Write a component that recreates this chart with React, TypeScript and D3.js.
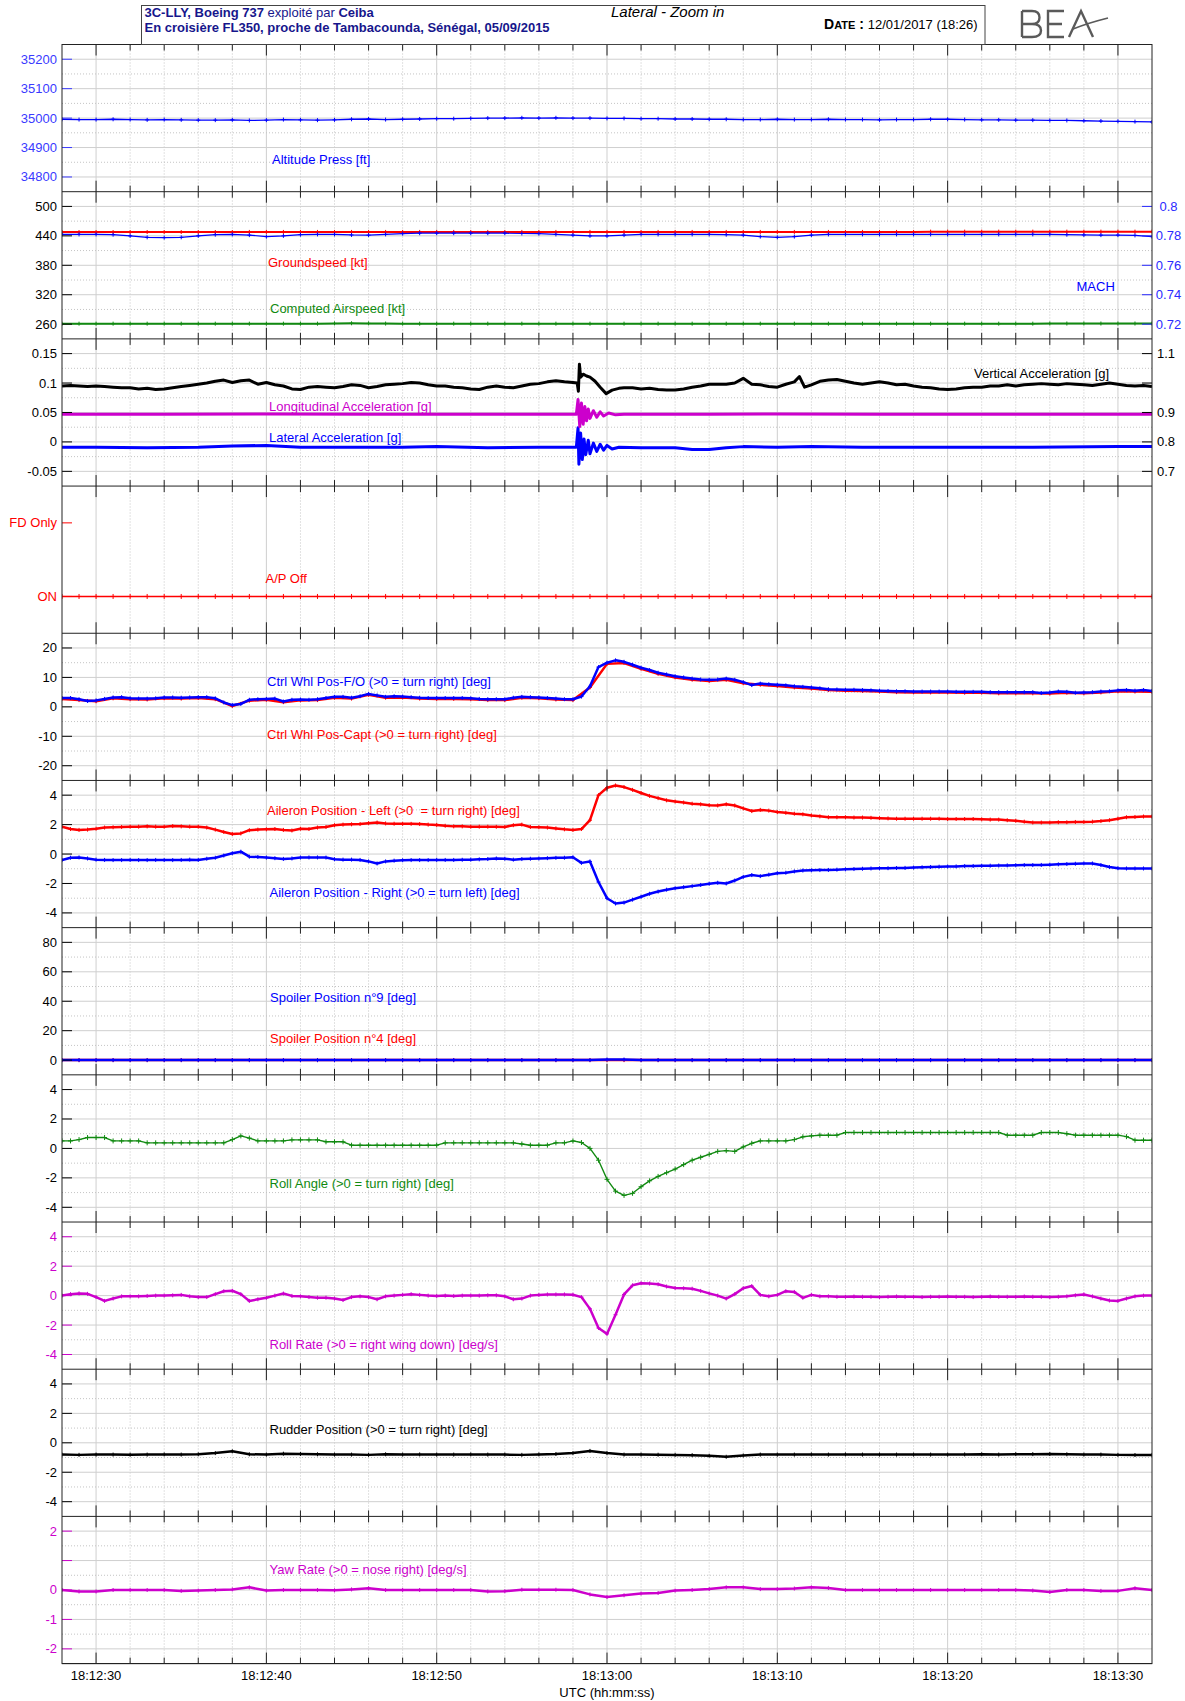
import React from 'react';
import * as d3 from 'd3';

const FONT = '"Liberation Sans", Arial, Helvetica, sans-serif';
const W = 1185, H = 1701;
const L = 62, R = 1152, TOP = 44.5, PH = 147.19, NP = 11;
const BOTTOM = TOP + PH * NP;

const BLUE = '#0000ff', RED = '#ff0000', GREEN = '#118a11', MAG = '#cc00cc', BLK = '#000000';
const NAVY = '#16168c';

// ---------- time axis ----------
const timeDomain: [number, number] = [28, 92]; // seconds after 18:12:00
const majorTimes = [30, 40, 50, 60, 70, 80, 90];
const timeLabels = ['18:12:30', '18:12:40', '18:12:50', '18:13:00', '18:13:10', '18:13:20', '18:13:30'];
const minorTimes = d3.range(30, 91, 2);

const SEC = d3.range(28, 93, 1); // 65 samples, 1 s
const HALF = d3.range(0, 129).map((i) => 28 + i * 0.5); // 129 samples, 0.5 s

// ---------- data ----------
const altitude = [
  34996, 34995, 34995, 34996, 34995, 34994, 34995, 34994, 34993,
  34993, 34994, 34992, 34993, 34995, 34994, 34993, 34994,
  34996, 34997, 34995, 34996, 34997, 34998, 34998, 34999,
  35000, 35000, 35001, 35000, 35001, 35000, 35000, 34999,
  34999, 34998, 34998, 34997, 34997, 34996, 34996, 34995,
  34995, 34996, 34995, 34995, 34996, 34995, 34995, 34994,
  34995, 34995, 34996, 34996, 34995, 34994, 34994, 34993,
  34993, 34992, 34992, 34991, 34990, 34989, 34988, 34987,
];

const groundspeed = [
  447.8, 447.8, 447.8, 447.8, 447.8, 447.8, 447.8, 447.8, 447.8, 447.8, 447.8,
  448.0, 448.0, 448.0, 448.0, 448.0, 448.0, 448.0, 448.0, 448.0, 448.0,
  448.0, 448.0, 448.0, 448.0, 448.0, 448.0, 448.0, 448.0, 448.0, 448.0,
  448.0, 448.0, 448.0, 448.0, 448.0, 448.0, 448.0, 448.0, 448.0, 448.0,
  448.0, 448.0, 448.0, 448.0, 448.0, 448.0, 448.0, 448.0, 448.0, 448.0,
  448.6, 448.6, 448.6, 448.6, 448.6, 448.6, 448.6, 448.6, 448.6, 448.6,
  448.6, 448.6, 448.6, 448.6,
];

const airspeed = [
  261.0, 261.0, 261.0, 261.0, 261.0, 261.0, 261.0, 261.0, 261.0, 261.0,
  261.0, 261.0, 261.0, 261.0, 261.0, 261.0, 261.6, 261.8, 261.6, 261.2,
  261.0, 261.0, 261.0, 261.0, 261.0, 261.0, 261.0, 261.0, 261.0, 261.0,
  261.0, 261.0, 261.0, 261.0, 261.0, 261.0, 261.0, 261.0, 261.0, 261.0,
  261.0, 261.0, 261.0, 261.0, 261.0, 261.0, 261.0, 261.0, 261.0, 261.0,
  261.0, 261.0, 261.0, 261.0, 261.0, 261.0, 261.0, 261.0, 261.3, 261.3,
  261.3, 261.3, 261.3, 261.3, 261.3,
];

const mach = [
  0.781, 0.781, 0.781, 0.7808, 0.78, 0.779, 0.7788, 0.779, 0.78, 0.7808,
  0.781, 0.7805, 0.7795, 0.78, 0.7808, 0.781, 0.781, 0.7806, 0.7805, 0.781,
  0.7815, 0.7818, 0.7818, 0.7818, 0.7818, 0.7818, 0.7818, 0.7816, 0.7815, 0.781,
  0.7805, 0.78, 0.78, 0.7805, 0.781, 0.781, 0.781, 0.781, 0.781, 0.7808,
  0.7805, 0.7795, 0.779, 0.7795, 0.7805, 0.781, 0.781, 0.781, 0.781, 0.781,
  0.781, 0.781, 0.781, 0.781, 0.781, 0.781, 0.781, 0.781, 0.781, 0.7808,
  0.7806, 0.7805, 0.7805, 0.7803, 0.7795,
];

const verticalAcc: [number, number][] = [
  [28, 0.990], [28.5, 0.992], [29, 0.990], [29.5, 0.988], [30, 0.990], [30.5, 0.988], [31, 0.986], [31.5, 0.984],
  [32, 0.984], [32.5, 0.980], [33, 0.982], [33.5, 0.978], [34, 0.980], [34.5, 0.984], [35, 0.988], [35.5, 0.992],
  [36, 0.996], [36.5, 1.000], [37, 1.006], [37.5, 1.010], [38, 1.002], [38.5, 1.008], [39, 1.010], [39.5, 0.996],
  [40, 1.002], [40.5, 0.994], [41, 0.990], [41.5, 0.980], [42, 0.978], [42.5, 0.986], [43, 0.988], [43.5, 0.986],
  [44, 0.984], [44.5, 0.988], [45, 0.994], [45.5, 0.992], [46, 0.984], [46.5, 0.988], [47, 0.994], [47.5, 0.996],
  [48, 0.998], [48.5, 1.002], [49, 1.000], [49.5, 0.994], [50, 0.990], [50.5, 0.990], [51, 0.986], [51.5, 0.984],
  [52, 0.980], [52.5, 0.978], [53, 0.986], [53.5, 0.990], [54, 0.986], [54.5, 0.984], [55, 0.990], [55.5, 0.996],
  [56, 0.998], [56.5, 1.004], [57, 1.008], [57.5, 1.004], [58, 1.002], [58.25, 1.000], [58.32, 0.972], [58.38, 1.064],
  [58.45, 1.020], [58.6, 1.030], [58.8, 1.024], [59.0, 1.020], [59.3, 1.006], [59.6, 0.986], [59.95, 0.964], [60.3, 0.976],
  [60.7, 0.982], [61, 0.984], [61.5, 0.984], [62, 0.980], [62.5, 0.982], [63, 0.978], [63.5, 0.976], [64, 0.976],
  [64.5, 0.980], [65, 0.986], [65.5, 0.990], [66, 0.996], [66.5, 0.996], [67, 0.996], [67.5, 1.000], [68, 1.016],
  [68.5, 0.996], [69, 0.994], [69.5, 0.988], [70, 0.986], [70.5, 0.996], [71, 1.004], [71.3, 1.022], [71.6, 0.986],
  [72, 0.994], [72.5, 1.006], [73, 1.010], [73.5, 1.012], [74, 1.006], [74.5, 1.000], [75, 0.996], [75.5, 1.000],
  [76, 1.004], [76.5, 1.000], [77, 0.994], [77.5, 0.996], [78, 0.990], [78.5, 0.986], [79, 0.984], [79.5, 0.980],
  [80, 0.978], [80.5, 0.980], [81, 0.984], [81.5, 0.986], [82, 0.986], [82.5, 0.990], [83, 0.990], [83.5, 0.994],
  [84, 0.990], [84.5, 0.994], [85, 0.996], [85.5, 0.998], [86, 0.996], [86.5, 0.994], [87, 0.998], [87.5, 0.996],
  [88, 0.994], [88.5, 0.992], [89, 0.996], [89.5, 1.000], [90, 0.996], [90.5, 0.992], [91, 0.990], [91.5, 0.992],
  [92, 0.988],
];

const longitudinalAcc: [number, number][] = [
  [28, 0.047], [34, 0.047], [40, 0.0475], [46, 0.0468], [52, 0.047], [58.2, 0.047], [58.3, 0.072], [58.4, 0.026],
  [58.5, 0.066], [58.6, 0.030], [58.7, 0.060], [58.8, 0.036], [58.9, 0.056], [59.0, 0.040], [59.2, 0.053], [59.4, 0.042],
  [59.6, 0.051], [59.8, 0.044], [60.1, 0.049], [60.5, 0.046], [61, 0.047], [66, 0.047], [70, 0.0475], [76, 0.047],
  [82, 0.047], [88, 0.047], [92, 0.047],
];

const lateralAcc: [number, number][] = [
  [28, -0.009], [30, -0.009], [33, -0.010], [36, -0.009], [38, -0.007], [40, -0.006], [42, -0.009], [45, -0.009],
  [48, -0.009], [50, -0.008], [53, -0.010], [56, -0.009], [58.2, -0.009], [58.3, 0.024], [58.35, -0.038], [58.45, 0.015],
  [58.55, -0.030], [58.65, 0.005], [58.75, -0.022], [58.9, 0.003], [59.0, -0.020], [59.2, -0.002], [59.4, -0.016], [59.6, -0.004],
  [59.8, -0.014], [60.0, -0.006], [60.3, -0.012], [60.7, -0.009], [62, -0.010], [64, -0.010], [65, -0.013], [66, -0.013],
  [67, -0.010], [68, -0.008], [70, -0.009], [72, -0.008], [75, -0.009], [80, -0.009], [85, -0.009], [90, -0.008], [92, -0.008],
];

const autopilot = [
  0, 0, 0, 0, 0, 0, 0, 0, 0, 0, 0, 0, 0, 0, 0, 0, 0, 0, 0, 0, 0, 0, 0, 0, 0, 0, 0, 0, 0, 0, 0, 0, 0,
  0, 0, 0, 0, 0, 0, 0, 0, 0, 0, 0, 0, 0, 0, 0, 0, 0, 0, 0, 0, 0, 0, 0, 0, 0, 0, 0, 0, 0, 0, 0, 0,
];

const ctrlWhlFO = [
  3.0, 3.0, 2.6, 2.0, 2.2, 2.7, 3.2, 3.3, 2.9, 2.8,
  2.8, 2.9, 3.2, 3.2, 3.1, 3.2, 3.3, 3.3, 2.9, 1.5,
  0.6, 1.0, 2.4, 2.6, 2.7, 2.8, 1.8, 2.4, 2.5, 2.4,
  2.6, 3.0, 3.4, 3.4, 3.1, 3.6, 4.4, 3.9, 3.4, 3.6,
  3.5, 3.3, 3.1, 3.0, 3.0, 3.0, 3.0, 3.0, 2.9, 2.7,
  2.6, 2.6, 2.6, 3.1, 3.4, 3.3, 3.2, 3.0, 2.8, 2.6,
  2.6, 3.5, 7.0, 13.5, 15.0, 15.8, 15.3, 14.3, 13.3, 12.5,
  11.6, 11.0, 10.4, 10.0, 9.6, 9.3, 9.2, 9.3, 9.6, 9.2,
  8.4, 7.4, 7.9, 7.7, 7.5, 7.3, 7.0, 6.8, 6.6, 6.3,
  6.0, 5.9, 5.8, 5.8, 5.7, 5.6, 5.5, 5.4, 5.3, 5.3,
  5.2, 5.2, 5.2, 5.2, 5.2, 5.1, 5.1, 5.1, 5.1, 5.0,
  5.0, 5.0, 5.0, 5.0, 5.0, 4.7, 4.9, 5.2, 5.1, 4.8,
  4.9, 5.0, 5.2, 5.3, 5.6, 5.7, 5.5, 5.7, 5.4,
];

const ctrlWhlCapt = [
  2.7, 2.3, 1.9, 2.9, 2.6, 2.5, 2.9, 2.8, 3.0, 2.6,
  0.3, 2.1, 2.4, 1.6, 2.2, 2.3, 3.1, 2.8, 4.1, 3.1,
  3.2, 2.8, 2.7, 2.7, 2.6, 2.3, 2.3, 3.1, 2.9, 2.5,
  2.3, 6.6, 14.6, 14.9, 12.9, 11.2, 10.0, 9.2, 8.8, 9.2,
  8.0, 7.5, 7.1, 6.6, 6.2, 5.7, 5.5, 5.4, 5.2, 5.0,
  4.9, 4.9, 4.9, 4.8, 4.8, 4.6, 4.6, 4.6, 4.5, 4.8,
  4.6, 4.9, 5.3, 5.2, 5.1,
];

const aileronLeft = [
  1.86, 1.70, 1.64, 1.66, 1.72, 1.80, 1.82, 1.84, 1.86, 1.86,
  1.88, 1.86, 1.86, 1.90, 1.88, 1.86, 1.86, 1.80, 1.66, 1.50,
  1.36, 1.40, 1.62, 1.66, 1.68, 1.70, 1.64, 1.60, 1.72, 1.70,
  1.80, 1.84, 1.96, 2.00, 2.02, 2.04, 2.10, 2.14, 2.08, 2.06,
  2.05, 2.05, 2.04, 2.00, 1.98, 1.92, 1.88, 1.88, 1.86, 1.86,
  1.86, 1.85, 1.84, 1.96, 2.00, 1.84, 1.82, 1.80, 1.74, 1.68,
  1.64, 1.70, 2.30, 4.00, 4.50, 4.66, 4.55, 4.36, 4.15, 3.95,
  3.80, 3.65, 3.57, 3.50, 3.42, 3.38, 3.32, 3.30, 3.38, 3.30,
  3.10, 2.92, 3.00, 2.95, 2.85, 2.80, 2.74, 2.70, 2.62, 2.56,
  2.50, 2.50, 2.50, 2.48, 2.48, 2.46, 2.44, 2.42, 2.40, 2.40,
  2.40, 2.40, 2.40, 2.40, 2.38, 2.38, 2.38, 2.38, 2.36, 2.34,
  2.34, 2.30, 2.26, 2.20, 2.14, 2.14, 2.14, 2.16, 2.16, 2.18,
  2.18, 2.20, 2.24, 2.30, 2.40, 2.50, 2.52, 2.55, 2.55,
];

const aileronRight = [
  -0.41, -0.25, -0.23, -0.30, -0.38, -0.40, -0.41, -0.41, -0.40, -0.41,
  -0.41, -0.40, -0.41, -0.41, -0.40, -0.38, -0.40, -0.32, -0.25, -0.10,
  0.05, 0.16, -0.18, -0.20, -0.24, -0.28, -0.33, -0.30, -0.24, -0.23,
  -0.23, -0.24, -0.35, -0.38, -0.38, -0.40, -0.50, -0.64, -0.50, -0.45,
  -0.42, -0.41, -0.41, -0.41, -0.40, -0.40, -0.40, -0.39, -0.38, -0.36,
  -0.34, -0.30, -0.32, -0.38, -0.34, -0.32, -0.30, -0.28, -0.26, -0.25,
  -0.22, -0.60, -0.50, -1.90, -3.00, -3.36, -3.30, -3.10, -2.90, -2.70,
  -2.55, -2.42, -2.32, -2.25, -2.18, -2.10, -2.02, -1.95, -2.00, -1.80,
  -1.55, -1.43, -1.50, -1.40, -1.30, -1.27, -1.18, -1.12, -1.10, -1.09,
  -1.08, -1.06, -1.04, -1.02, -1.00, -0.98, -0.97, -0.96, -0.95, -0.94,
  -0.92, -0.90, -0.88, -0.86, -0.85, -0.84, -0.82, -0.81, -0.80, -0.79,
  -0.78, -0.77, -0.76, -0.75, -0.75, -0.74, -0.72, -0.70, -0.68, -0.66,
  -0.64, -0.64, -0.75, -0.88, -0.96, -0.98, -0.98, -0.98, -0.98,
];

const spoiler9 = [
  0, 0, 0, 0, 0, 0, 0, 0, 0, 0, 0, 0, 0, 0, 0, 0, 0, 0, 0, 0, 0, 0, 0, 0, 0, 0, 0, 0, 0, 0, 0, 0,
  0.4, 0.4, 0, 0, 0, 0, 0, 0, 0, 0, 0, 0, 0, 0, 0, 0, 0, 0, 0, 0, 0, 0, 0, 0, 0, 0, 0, 0, 0, 0, 0, 0, 0,
];
const spoiler4 = [
  0, 0, 0, 0, 0, 0, 0, 0, 0, 0, 0, 0, 0, 0, 0, 0, 0, 0, 0, 0, 0, 0, 0, 0, 0, 0, 0, 0, 0, 0, 0, 0,
  0, 0, 0, 0, 0, 0, 0, 0, 0, 0, 0, 0, 0, 0, 0, 0, 0, 0, 0, 0, 0, 0, 0, 0, 0, 0, 0, 0, 0, 0, 0, 0, 0,
];

const rollAngle = [
  0.51, 0.51, 0.60, 0.74, 0.74, 0.74, 0.51, 0.51, 0.51, 0.51,
  0.38, 0.38, 0.38, 0.38, 0.38, 0.38, 0.38, 0.38, 0.38, 0.38,
  0.60, 0.85, 0.70, 0.51, 0.51, 0.51, 0.51, 0.58, 0.58, 0.58,
  0.58, 0.45, 0.45, 0.45, 0.22, 0.22, 0.22, 0.22, 0.22, 0.22,
  0.22, 0.22, 0.22, 0.22, 0.22, 0.38, 0.38, 0.38, 0.38, 0.38,
  0.38, 0.38, 0.38, 0.38, 0.30, 0.22, 0.22, 0.22, 0.38, 0.38,
  0.51, 0.40, 0.00, -0.80, -2.10, -2.90, -3.19, -3.05, -2.60, -2.20,
  -1.90, -1.65, -1.40, -1.10, -0.80, -0.60, -0.40, -0.20, -0.15, -0.20,
  0.10, 0.35, 0.51, 0.51, 0.51, 0.51, 0.60, 0.79, 0.85, 0.90,
  0.90, 0.90, 1.08, 1.08, 1.08, 1.08, 1.08, 1.08, 1.08, 1.08,
  1.08, 1.08, 1.08, 1.08, 1.08, 1.08, 1.08, 1.08, 1.08, 1.08,
  1.08, 0.90, 0.90, 0.90, 0.90, 1.08, 1.08, 1.08, 1.00, 0.90,
  0.90, 0.90, 0.90, 0.90, 0.90, 0.80, 0.56, 0.56, 0.56,
];

const rollRate = [
  0.00, 0.10, 0.15, 0.12, -0.10, -0.36, -0.20, -0.05, -0.05, -0.05,
  -0.02, 0.00, 0.00, 0.02, 0.05, -0.05, -0.10, -0.10, 0.10, 0.30,
  0.33, 0.10, -0.36, -0.25, -0.15, 0.00, 0.14, -0.02, -0.05, -0.10,
  -0.14, -0.14, -0.20, -0.30, -0.10, -0.05, -0.10, -0.25, -0.05, 0.00,
  0.05, 0.10, 0.05, 0.00, -0.02, 0.00, -0.02, 0.00, 0.00, 0.00,
  0.02, 0.02, -0.05, -0.25, -0.20, 0.00, 0.05, 0.08, 0.08, 0.08,
  0.06, -0.10, -0.90, -2.20, -2.60, -1.30, 0.08, 0.70, 0.84, 0.82,
  0.77, 0.62, 0.52, 0.50, 0.47, 0.32, 0.15, 0.00, -0.20, 0.10,
  0.50, 0.65, 0.05, -0.05, 0.05, 0.30, 0.25, -0.15, 0.05, -0.05,
  -0.05, -0.08, -0.08, -0.06, -0.08, -0.08, -0.10, -0.08, -0.06, -0.08,
  -0.08, -0.10, -0.08, -0.08, -0.06, -0.08, -0.08, -0.10, -0.08, -0.06,
  -0.08, -0.08, -0.08, -0.06, -0.08, -0.08, -0.10, -0.08, -0.05, 0.02,
  0.08, -0.05, -0.20, -0.33, -0.36, -0.20, -0.05, 0.00, 0.00,
];

const rudder = [
  -0.80, -0.82, -0.80, -0.80, -0.81, -0.80, -0.79, -0.80, -0.78, -0.70,
  -0.58, -0.78, -0.80, -0.74, -0.76, -0.78, -0.80, -0.80, -0.82, -0.78,
  -0.80, -0.79, -0.80, -0.80, -0.79, -0.80, -0.80, -0.82, -0.79, -0.76,
  -0.70, -0.55, -0.70, -0.80, -0.80, -0.81, -0.82, -0.84, -0.88, -0.95,
  -0.86, -0.80, -0.80, -0.80, -0.79, -0.80, -0.79, -0.80, -0.80, -0.80,
  -0.80, -0.80, -0.80, -0.79, -0.78, -0.80, -0.77, -0.77, -0.76, -0.78,
  -0.80, -0.80, -0.82, -0.83, -0.82,
];

const yawRate = [
  0.00, -0.05, -0.05, 0.00, 0.00, 0.00, 0.00, -0.03, -0.02, 0.00,
  0.02, 0.09, -0.02, 0.00, 0.00, 0.00, -0.01, 0.02, 0.06, 0.00,
  0.00, 0.00, 0.00, 0.00, 0.00, -0.05, -0.04, 0.01, 0.01, 0.01,
  0.00, -0.15, -0.24, -0.18, -0.12, -0.10, -0.02, 0.00, 0.03, 0.09,
  0.09, 0.03, 0.03, 0.05, 0.09, 0.07, 0.00, 0.00, 0.00, 0.00,
  0.00, 0.00, 0.00, 0.00, 0.00, 0.00, 0.00, -0.02, -0.07, 0.00,
  0.00, -0.03, -0.03, 0.06, 0.00,
];

// ---------- axis ticks ----------
const altTicks = [34800, 34900, 35000, 35100, 35200];
const speedTicks = [260, 320, 380, 440, 500];
const machTicks = [0.72, 0.74, 0.76, 0.78, 0.8];
const accTicks = [-0.05, 0, 0.05, 0.1, 0.15];
const vAccTicks = [0.7, 0.8, 0.9, 1.0, 1.1];
const vAccLabels = ['0.7', '0.8', '0.9', '', '1.1'];
const apTicks = [0, 1];
const apLabels = ['ON', 'FD Only'];
const wheelTicks = [-20, -10, 0, 10, 20];
const degTicks = [-4, -2, 0, 2, 4];
const spoilerTicks = [0, 20, 40, 60, 80];
const yawTicks = [-2, -1, 0, 1, 2];
const yawLabels = ['-2', '-1', '0', '', '2'];

type Pt = [number, number];
const zip = (ts: number[], vs: number[]): Pt[] => vs.map((v, i) => [ts[i], v] as Pt);

type Series = { data: Pt[]; color: string; width: number; marker: number; right?: boolean };
type Label = { text: string; color: string; x: number; y: number };
type Panel = {
  dom: [number, number];
  rdom?: [number, number];
  lt: number[]; ltl?: string[]; lc: string;
  rt?: number[]; rtl?: string[]; rc?: string; rAnchor?: 'middle' | 'start';
  grid: boolean;
  series: Series[];
  labels: Label[];
};

const panels: Panel[] = [
  {
    dom: [34750, 35250], lt: altTicks, lc: '#3a3aff', grid: true,
    series: [{ data: zip(SEC, altitude), color: BLUE, width: 1.3, marker: 2 }],
    labels: [{ text: 'Altitude Press [ft]', color: BLUE, x: 272, y: 159.5 }],
  },
  {
    dom: [230, 530], rdom: [0.71, 0.81], lt: speedTicks, lc: BLK,
    rt: machTicks, rtl: ['0.72', '0.74', '0.76', '0.78', '0.8'], rc: '#2a2aff', rAnchor: 'middle', grid: true,
    series: [
      { data: zip(SEC, airspeed), color: GREEN, width: 2, marker: 2 },
      { data: zip(SEC, groundspeed), color: RED, width: 2, marker: 2 },
      { data: zip(SEC, mach), color: BLUE, width: 1.2, marker: 2, right: true },
    ],
    labels: [
      { text: 'Groundspeed [kt]', color: RED, x: 268, y: 262 },
      { text: 'Computed Airspeed [kt]', color: GREEN, x: 270, y: 308.5 },
      { text: 'MACH', color: BLUE, x: 1076.5, y: 286 },
    ],
  },
  {
    dom: [-0.075, 0.175], rdom: [0.65, 1.15], lt: accTicks, lc: BLK,
    rt: vAccTicks, rtl: vAccLabels, rc: BLK, rAnchor: 'start', grid: true,
    series: [
      { data: lateralAcc, color: BLUE, width: 3, marker: 0 },
      { data: longitudinalAcc, color: MAG, width: 3, marker: 0 },
      { data: verticalAcc, color: BLK, width: 3, marker: 0, right: true },
    ],
    labels: [
      { text: 'Vertical Acceleration [g]', color: BLK, x: 974, y: 373.5 },
      { text: 'Longitudinal Acceleration [g]', color: MAG, x: 269, y: 406 },
      { text: 'Lateral Acceleration [g]', color: BLUE, x: 269, y: 437 },
    ],
  },
  {
    dom: [-0.5, 1.5], lt: apTicks, ltl: apLabels, lc: RED, grid: false,
    series: [{ data: zip(SEC, autopilot), color: RED, width: 1.5, marker: 2.5 }],
    labels: [{ text: 'A/P Off', color: RED, x: 265.5, y: 578.5 }],
  },
  {
    dom: [-25, 25], lt: wheelTicks, lc: BLK, grid: true,
    series: [
      { data: zip(SEC, ctrlWhlCapt), color: RED, width: 2.5, marker: 2 },
      { data: zip(HALF, ctrlWhlFO), color: BLUE, width: 2.5, marker: 2 },
    ],
    labels: [
      { text: 'Ctrl Whl Pos-F/O (>0 = turn right) [deg]', color: BLUE, x: 267, y: 681.7 },
      { text: 'Ctrl Whl Pos-Capt (>0 = turn right) [deg]', color: RED, x: 267, y: 734 },
    ],
  },
  {
    dom: [-5, 5], lt: degTicks, lc: BLK, grid: true,
    series: [
      { data: zip(HALF, aileronLeft), color: RED, width: 2.5, marker: 2 },
      { data: zip(HALF, aileronRight), color: BLUE, width: 2.5, marker: 2 },
    ],
    labels: [
      { text: 'Aileron Position - Left (>0  = turn right) [deg]', color: RED, x: 267, y: 810 },
      { text: 'Aileron Position - Right (>0 = turn left) [deg]', color: BLUE, x: 269.5, y: 892.3 },
    ],
  },
  {
    dom: [-10, 90], lt: spoilerTicks, lc: BLK, grid: true,
    series: [
      { data: zip(SEC, spoiler4), color: RED, width: 2.5, marker: 2 },
      { data: zip(SEC, spoiler9), color: BLUE, width: 2.5, marker: 2 },
    ],
    labels: [
      { text: 'Spoiler Position n°9 [deg]', color: BLUE, x: 270, y: 997.3 },
      { text: 'Spoiler Position n°4 [deg]', color: RED, x: 270, y: 1038.5 },
    ],
  },
  {
    dom: [-5, 5], lt: degTicks, lc: BLK, grid: true,
    series: [{ data: zip(HALF, rollAngle), color: GREEN, width: 1.4, marker: 2.5 }],
    labels: [{ text: 'Roll Angle (>0 = turn right) [deg]', color: GREEN, x: 269.5, y: 1183.3 }],
  },
  {
    dom: [-5, 5], lt: degTicks, lc: MAG, grid: true,
    series: [{ data: zip(HALF, rollRate), color: MAG, width: 2.5, marker: 2 }],
    labels: [{ text: 'Roll Rate (>0 = right wing down) [deg/s]', color: MAG, x: 269.5, y: 1344.3 }],
  },
  {
    dom: [-5, 5], lt: degTicks, lc: BLK, grid: true,
    series: [{ data: zip(SEC, rudder), color: BLK, width: 2.5, marker: 2 }],
    labels: [{ text: 'Rudder Position (>0 = turn right) [deg]', color: BLK, x: 269.5, y: 1429.3 }],
  },
  {
    dom: [-2.5, 2.5], lt: yawTicks, ltl: yawLabels, lc: MAG, grid: true,
    series: [{ data: zip(SEC, yawRate), color: MAG, width: 2.5, marker: 2 }],
    labels: [{ text: 'Yaw Rate (>0 = nose right) [deg/s]', color: MAG, x: 269.5, y: 1569.3 }],
  },
];

export default function App() {
  const x = d3.scaleLinear().domain(timeDomain).range([L, R]);
  const boundaries = d3.range(0, NP + 1).map((b) => TOP + b * PH);

  return (
    <svg
      width={W}
      height={H}
      style={{ position: 'absolute', left: 0, top: 0, display: 'block' }}
      fontFamily={FONT}
    >
      <rect x={0} y={0} width={W} height={H} fill="#ffffff" />

      {/* vertical grid */}
      {minorTimes.map((t) => {
        const major = majorTimes.includes(t);
        return (
          <line
            key={'vg' + t}
            x1={x(t)} x2={x(t)} y1={TOP} y2={BOTTOM}
            stroke={major ? '#cfcfcf' : '#c4c4c4'}
            strokeWidth={1}
            strokeDasharray={major ? undefined : '1,2'}
          />
        );
      })}

      {panels.map((p, i) => {
        const top = TOP + i * PH;
        const bot = top + PH;
        const y = d3.scaleLinear().domain(p.dom).range([bot, top]);
        const yr = p.rdom ? d3.scaleLinear().domain(p.rdom).range([bot, top]) : null;
        const mids = p.lt.slice(1).map((v, k) => (v + p.lt[k]) / 2);
        return (
          <g key={'p' + i}>
            <defs>
              <clipPath id={'clip' + i}>
                <rect x={L} y={top} width={R - L} height={PH} />
              </clipPath>
            </defs>
            {p.grid && p.lt.map((v) => (
              <line key={'hg' + v} x1={L} x2={R} y1={y(v)} y2={y(v)} stroke="#cfcfcf" strokeWidth={1} />
            ))}
            {p.grid && mids.map((v) => (
              <line key={'hm' + v} x1={L} x2={R} y1={y(v)} y2={y(v)} stroke="#c4c4c4" strokeWidth={1} strokeDasharray="1,2" />
            ))}
            <g clipPath={`url(#clip${i})`}>
              {p.series.map((s, k) => {
                const sc = s.right && yr ? yr : y;
                const line = d3.line<Pt>().x((d) => x(d[0])).y((d) => sc(d[1]));
                const m = s.marker;
                const markers = m > 0
                  ? s.data.map((d) => {
                      const px = x(d[0]), py = sc(d[1]);
                      return `M${px - m},${py}h${2 * m}M${px},${py - m}v${2 * m}`;
                    }).join('')
                  : '';
                return (
                  <g key={'s' + k}>
                    <path d={line(s.data) || ''} fill="none" stroke={s.color} strokeWidth={s.width} strokeLinejoin="round" />
                    {m > 0 && <path d={markers} fill="none" stroke={s.color} strokeWidth={1} />}
                  </g>
                );
              })}
            </g>
            {/* left ticks */}
            {p.lt.map((v, k) => (
              <g key={'lt' + k}>
                <line x1={L} x2={L + 10} y1={y(v)} y2={y(v)} stroke={p.lc} strokeWidth={1} />
                <text x={L - 5} y={y(v) + 4.5} fontSize={13} fill={p.lc} textAnchor="end">
                  {p.ltl ? p.ltl[k] : String(v)}
                </text>
              </g>
            ))}
            {/* right ticks */}
            {p.rt && yr && p.rt.map((v, k) => (
              <g key={'rt' + k}>
                <line x1={R - 10} x2={R} y1={yr(v)} y2={yr(v)} stroke={p.rc} strokeWidth={1} />
                <text
                  x={p.rAnchor === 'middle' ? 1168.5 : 1157}
                  y={yr(v) + 4.5}
                  fontSize={13}
                  fill={p.rc}
                  textAnchor={p.rAnchor === 'middle' ? 'middle' : 'start'}
                >
                  {p.rtl ? p.rtl[k] : String(v)}
                </text>
              </g>
            ))}
            {p.labels.map((lb, k) => (
              <text key={'lb' + k} x={lb.x} y={lb.y + 4.5} fontSize={13} fill={lb.color} style={{ whiteSpace: 'pre' }}>
                {lb.text}
              </text>
            ))}
          </g>
        );
      })}

      {/* separators and boundary ticks */}
      {boundaries.map((yb, b) => (
        <g key={'b' + b}>
          <line x1={L} x2={R} y1={yb} y2={yb} stroke="#222" strokeWidth={1} />
          {minorTimes.map((t) => {
            const len = majorTimes.includes(t) ? 11 : 6;
            return (
              <g key={'bt' + t}>
                {b < NP && <line x1={x(t)} x2={x(t)} y1={yb} y2={yb + len} stroke="#222" strokeWidth={1} />}
                {b > 0 && <line x1={x(t)} x2={x(t)} y1={yb - len} y2={yb} stroke="#222" strokeWidth={1} />}
              </g>
            );
          })}
        </g>
      ))}
      <rect x={L} y={TOP} width={R - L} height={BOTTOM - TOP} fill="none" stroke="#222" strokeWidth={1} />

      {/* x axis labels */}
      {majorTimes.map((t, k) => (
        <text key={'xl' + t} x={x(t)} y={1680} fontSize={13} textAnchor="middle" fill="#000">
          {timeLabels[k]}
        </text>
      ))}
      <text x={x(60)} y={1697} fontSize={13} textAnchor="middle" fill="#000">UTC (hh:mm:ss)</text>

      {/* header */}
      <rect x={141.5} y={5.5} width={843.5} height={TOP - 5.5} fill="#fff" stroke="#444" strokeWidth={1} />
      <text x={144.5} y={17} fontSize={13} fill={NAVY}>
        <tspan fontWeight="bold">3C-LLY, Boeing 737</tspan>
        <tspan> exploité par </tspan>
        <tspan fontWeight="bold">Ceiba</tspan>
      </text>
      <text x={144.5} y={31.5} fontSize={13} fill={NAVY} fontWeight="bold">
        En croisière FL350, proche de Tambacounda, Sénégal, 05/09/2015
      </text>
      <text x={611} y={17} fontSize={15} fontStyle="italic" fill="#000">Lateral - Zoom in</text>
      <text x={824} y={29} fontSize={14} fill="#000">
        <tspan fontWeight="bold">D</tspan>
        <tspan fontWeight="bold" fontSize={11}>ATE</tspan>
        <tspan fontWeight="bold"> : </tspan>
        <tspan fontSize={13}>12/01/2017 (18:26)</tspan>
      </text>

      {/* BEA logo */}
      <g fill="none" stroke="#5a5a5a" strokeWidth={2.4} strokeLinejoin="miter">
        <path d="M1022,11 V37 M1022,11 H1032 Q1039.5,11 1039.5,17.5 Q1039.5,24 1032,24 H1022 M1032,24 Q1041,24 1041,30.5 Q1041,37 1032,37 H1022" />
        <path d="M1064,11 H1048 V37 H1064 M1048,24 H1062" />
        <path d="M1069,37 L1081,11 Q1087,24 1093,37" />
        <path d="M1073,29 Q1088,23 1108,18" strokeWidth={1.8} />
      </g>
    </svg>
  );
}
